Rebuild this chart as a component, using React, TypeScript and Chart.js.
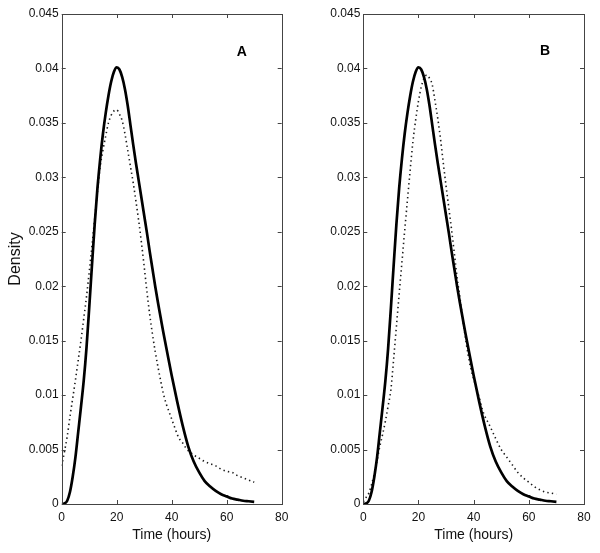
import React, { useEffect, useRef } from "react";
import { Chart, registerables } from "chart.js";

Chart.register(...registerables);

// ---------- data ----------
const xTicks = [0, 20, 40, 60, 80];
const xTickLabels = ["0", "20", "40", "60", "80"];
const yTicks = [0, 0.005, 0.01, 0.015, 0.02, 0.025, 0.03, 0.035, 0.04, 0.045];
const yTickLabels = ["0", "0.005", "0.01", "0.015", "0.02", "0.025", "0.03", "0.035", "0.04", "0.045"];

const xAxisTitle = "Time (hours)";
const yAxisTitle = "Density";
const panelLabels = ["A", "B"];
const panelLabelX = [65.5, 65.9];
const panelLabelY = [0.0415, 0.0416];

// solid curve (same in both panels)
const solidTime = [0, 1, 2, 3, 4, 5, 6, 7, 8, 9, 10, 11, 12, 13, 14, 15, 16, 17, 18, 19, 20, 21, 22, 23, 24, 25, 26, 27, 28, 29, 30, 31, 32, 33, 34, 35, 36, 37, 38, 40, 42, 44, 46, 48, 50, 52, 54, 56, 58, 60, 62, 64, 66, 68, 70];
const solidDensity = [0, 0.00005, 0.0003, 0.0011, 0.0025, 0.0043, 0.0066, 0.0089, 0.0113, 0.0143, 0.018, 0.0219, 0.0257, 0.029, 0.0317, 0.034, 0.0359, 0.0375, 0.0388, 0.0397, 0.0401, 0.0399, 0.0392, 0.0381, 0.0366, 0.0348, 0.033, 0.0313, 0.0297, 0.0281, 0.0265, 0.0249, 0.0232, 0.0216, 0.02, 0.0185, 0.0171, 0.0157, 0.0144, 0.0118, 0.0094, 0.0072, 0.0053, 0.0039, 0.0029, 0.0021, 0.0016, 0.0012, 0.0009, 0.0007, 0.0005, 0.0004, 0.0003, 0.00025, 0.0002];

// dotted curve, panel A
const dottedATime = [0, 1, 2, 3, 4, 5, 6, 7, 8, 9, 10, 11, 12, 13, 14, 15, 16, 17, 18, 19, 20, 21, 22, 23, 24, 25, 26, 27, 28, 29, 30, 31, 32, 33, 34, 35, 36, 37, 38, 39, 40, 41, 42, 43, 44, 45, 46, 47, 48, 50, 52, 54, 56, 58, 60, 62, 64, 66, 68, 70];
const dottedADensity = [0.0035, 0.0048, 0.0062, 0.008, 0.0097, 0.0114, 0.0132, 0.015, 0.017, 0.019, 0.0213, 0.0237, 0.0262, 0.0287, 0.031, 0.0325, 0.0338, 0.035, 0.0357, 0.0361, 0.0362, 0.0358, 0.0352, 0.034, 0.0325, 0.031, 0.0295, 0.0278, 0.026, 0.024, 0.0218, 0.0195, 0.0174, 0.0156, 0.014, 0.0126, 0.0113, 0.0101, 0.0092, 0.0085, 0.0078, 0.0071, 0.0064, 0.0059, 0.0056, 0.0052, 0.0049, 0.0047, 0.0045, 0.0042, 0.0039, 0.0037, 0.0035, 0.0032, 0.003, 0.0029, 0.0026, 0.0024, 0.0022, 0.002];

// dotted curve, panel B
const dottedBTime = [0, 1, 2, 3, 4, 5, 6, 7, 8, 9, 10, 11, 12, 13, 14, 15, 16, 17, 18, 19, 20, 21, 22, 23, 24, 25, 26, 27, 28, 29, 30, 31, 32, 33, 34, 35, 36, 37, 38, 39, 40, 41, 42, 43, 44, 45, 46, 48, 50, 52, 54, 56, 58, 60, 62, 64, 66, 68, 70];
const dottedBDensity = [0.0002, 0.0006, 0.001, 0.0018, 0.0028, 0.004, 0.0053, 0.0064, 0.0076, 0.009, 0.0105, 0.0133, 0.0163, 0.0193, 0.0222, 0.0251, 0.0279, 0.0307, 0.0333, 0.0353, 0.037, 0.0383, 0.0391, 0.0394, 0.0391, 0.0385, 0.037, 0.0354, 0.0335, 0.0313, 0.0292, 0.0272, 0.0252, 0.023, 0.0208, 0.019, 0.0171, 0.0153, 0.0137, 0.0124, 0.0115, 0.0106, 0.0098, 0.0088, 0.0081, 0.0076, 0.0071, 0.006, 0.005, 0.0043, 0.0036, 0.0029, 0.0024, 0.002, 0.0016, 0.0013, 0.0011, 0.001, 0.0009];

const FONT = "'Liberation Sans', Arial, Helvetica, sans-serif";
const INK = "#111";

type PanelProps = {
  idx: number;
  left: number;
  dotTime: number[];
  dotDensity: number[];
  yWidth: number;
  padRight: number;
  showYTitle: boolean;
};

function Panel({ idx, left, dotTime, dotDensity, yWidth, padRight, showYTitle }: PanelProps) {
  const ref = useRef<HTMLCanvasElement | null>(null);

  useEffect(() => {
    if (!ref.current) return;
    const frame = {
      id: "frame" + idx,
      afterDatasetsDraw(chart: any) {
        const { ctx, chartArea } = chart;
        const { left: l, right: r, top: t, bottom: b } = chartArea;
        const xs = chart.scales.x;
        const ys = chart.scales.y;
        ctx.save();
        ctx.strokeStyle = "#444";
        ctx.lineWidth = 1;
        ctx.strokeRect(Math.round(l) + 0.5, Math.round(t) + 0.5, Math.round(r - l), Math.round(b - t));
        const tl = 4;
        ctx.beginPath();
        xTicks.forEach((v) => {
          const px = Math.round(xs.getPixelForValue(v)) + 0.5;
          ctx.moveTo(px, b);
          ctx.lineTo(px, b - tl);
          ctx.moveTo(px, t);
          ctx.lineTo(px, t + tl);
        });
        yTicks.forEach((v) => {
          const py = Math.round(ys.getPixelForValue(v)) + 0.5;
          ctx.moveTo(l, py);
          ctx.lineTo(l + tl, py);
          ctx.moveTo(r, py);
          ctx.lineTo(r - tl, py);
        });
        ctx.stroke();
        // panel letter
        ctx.fillStyle = "#000";
        ctx.font = `bold 14px ${FONT}`;
        ctx.textAlign = "center";
        ctx.textBaseline = "middle";
        ctx.fillText(
          panelLabels[idx],
          xs.getPixelForValue(panelLabelX[idx]),
          ys.getPixelForValue(panelLabelY[idx])
        );
        ctx.restore();
      },
    };

    const chart = new Chart(ref.current, {
      type: "line",
      data: {
        datasets: [
          {
            data: solidTime.map((t, i) => ({ x: t, y: solidDensity[i] })),
            borderColor: "#000",
            borderWidth: 2.7,
            pointRadius: 0,
            fill: false,
            cubicInterpolationMode: "monotone",
          },
          {
            data: dotTime.map((t, i) => ({ x: t, y: dotDensity[i] })),
            borderColor: "#1a1a1a",
            borderWidth: 1.6,
            borderDash: [1.4, 3.2],
            pointRadius: 0,
            fill: false,
            cubicInterpolationMode: "monotone",
          },
        ],
      },
      options: {
        animation: false,
        responsive: false,
        maintainAspectRatio: false,
        plugins: { legend: { display: false }, tooltip: { enabled: false } },
        layout: { padding: { left: 0, top: 14, right: padRight, bottom: 0 } },
        scales: {
          x: {
            type: "linear",
            min: 0,
            max: 80,
            afterBuildTicks: (s: any) => {
              s.ticks = xTicks.map((v) => ({ value: v }));
            },
            afterFit: (s: any) => {
              s.height = 49;
            },
            ticks: {
              callback: (_v: any, i: number) => xTickLabels[i],
              font: { family: FONT, size: 12 },
              color: INK,
              padding: 6,
              maxRotation: 0,
              autoSkip: false,
            },
            grid: { display: false, drawTicks: false },
            border: { display: false },
            title: {
              display: true,
              text: xAxisTitle,
              font: { family: FONT, size: 14 },
              color: INK,
              padding: { top: 0, bottom: 9 },
            },
          },
          y: {
            type: "linear",
            min: 0,
            max: 0.045,
            afterBuildTicks: (s: any) => {
              s.ticks = yTicks.map((v) => ({ value: v }));
            },
            afterFit: (s: any) => {
              s.width = yWidth;
            },
            ticks: {
              callback: (_v: any, i: number) => yTickLabels[i],
              font: { family: FONT, size: 12 },
              color: INK,
              padding: 3,
              autoSkip: false,
            },
            grid: { display: false, drawTicks: false },
            border: { display: false },
            title: {
              display: showYTitle,
              text: yAxisTitle,
              font: { family: FONT, size: 16 },
              color: INK,
              padding: { top: 6, bottom: 0 },
            },
          },
        },
      } as any,
      plugins: [frame as any],
    });
    return () => chart.destroy();
  }, []);

  return (
    <canvas
      ref={ref}
      width={300}
      height={553}
      style={{ position: "absolute", left, top: 0, width: 300, height: 553 }}
    />
  );
}

export default function App() {
  return (
    <div style={{ position: "absolute", left: 0, top: 0, width: 600, height: 553, background: "#fff" }}>
      <Panel idx={0} left={0} dotTime={dottedATime} dotDensity={dottedADensity} yWidth={61.7} padRight={18.3} showYTitle={true} />
      <Panel idx={1} left={300} dotTime={dottedBTime} dotDensity={dottedBDensity} yWidth={63.3} padRight={16} showYTitle={false} />
    </div>
  );
}
